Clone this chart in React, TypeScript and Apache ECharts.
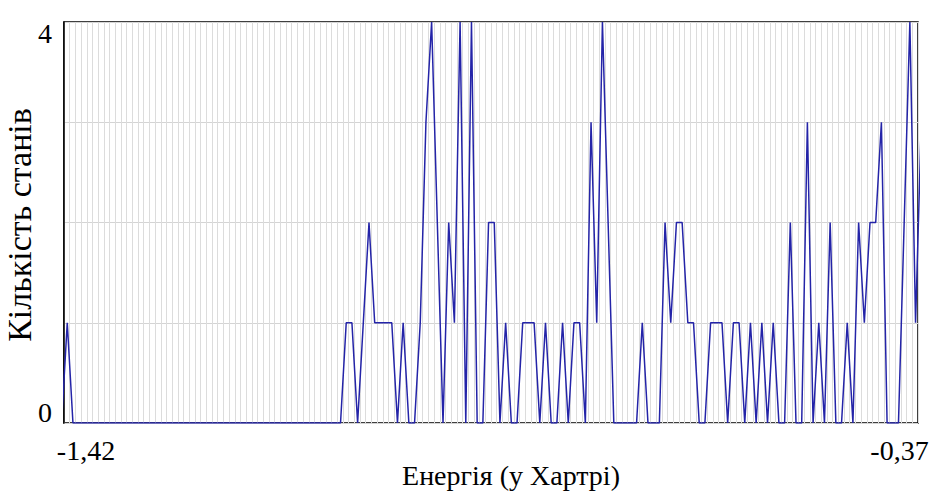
import React, { useEffect, useRef } from "react";
import * as echarts from "echarts";

// Energy range (Hartree) and histogram bins
const X_MIN = -1.42;
const X_MAX = -0.37;
const BIN_WIDTH = 0.007;
const BIN_COUNT = 150;
const FIRST_BIN_CENTER = -1.423;
const X_TICK_LABELS = ["-1,42", "-0,37"];
const Y_MIN = 0;
const Y_MAX = 4;
const Y_TICK_LABELS = ["0", "4"];
const X_TITLE = "Енергія (у Хартрі)";
const Y_TITLE = "Кількість станів";

// Number of states in each energy bin
const STATE_COUNTS = [
  0, 1,
  0, 0, 0, 0, 0, 0, 0, 0, 0, 0, 0, 0, 0, 0, 0, 0,
  0, 0, 0, 0, 0, 0, 0, 0, 0, 0, 0, 0, 0, 0, 0, 0,
  0, 0, 0, 0, 0, 0, 0, 0, 0, 0, 0, 0, 0, 0, 0, 0,
  1, 1, 0, 1, 2, 1, 1, 1, 1, 0, 1, 0, 0, 1, 3, 4,
  2, 0, 2, 1, 4, 0, 4, 0, 0, 2, 2, 0, 1, 0, 0, 1,
  1, 1, 0, 1, 0, 0, 1, 0, 1, 1, 0, 3, 1, 4, 2, 0,
  0, 0, 0, 0, 1, 0, 0, 0, 2, 1, 2, 2, 1, 1, 0, 0,
  1, 1, 1, 0, 1, 1, 0, 1, 0, 1, 0, 1, 0, 0, 2, 0,
  0, 3, 0, 1, 0, 2, 0, 0, 1, 0, 2, 1, 2, 2, 3, 0,
  0, 0, 2, 4, 1, 3,
];

const FONT = "Liberation Serif";

export default function App() {
  const ref = useRef<HTMLDivElement>(null);

  useEffect(() => {
    if (!ref.current) return;
    const chart = echarts.init(ref.current, undefined, { renderer: "svg" });
    const data = STATE_COUNTS.map((c, i) => [FIRST_BIN_CENTER + i * BIN_WIDTH, c]);

    chart.setOption({
      animation: false,
      backgroundColor: "#fff",
      textStyle: { fontFamily: FONT },
      grid: {
        left: 64,
        right: 17,
        top: 22,
        bottom: 68,
        containLabel: false,
        outerBoundsMode: "none",
        show: true,
        borderColor: "#000",
        borderWidth: 1.5,
        backgroundColor: "transparent",
      },
      xAxis: [
        {
          type: "value",
          min: X_MIN,
          max: X_MAX,
          show: false,
        },
        {
          type: "value",
          min: 0,
          max: BIN_COUNT,
          interval: 1,
          position: "bottom",
          axisLine: { show: false },
          axisTick: { show: false },
          splitLine: { show: true, lineStyle: { color: "#dcdcdc", width: 1 } },
          axisLabel: {
            margin: 13,
            color: "#000",
            fontFamily: FONT,
            fontSize: 28,
            formatter: (v: number) =>
              v === 0 ? "{l|" + X_TICK_LABELS[0] + "}" : v === BIN_COUNT ? "{r|" + X_TICK_LABELS[1] + "}" : "",
            rich: {
              l: { fontFamily: FONT, fontSize: 28, color: "#000", padding: [0, 0, 0, 44] },
              r: { fontFamily: FONT, fontSize: 28, color: "#000", padding: [0, 37, 0, 0] },
            },
          },
          name: X_TITLE,
          nameLocation: "middle",
          nameGap: 38,
          nameMoveOverlap: false,
          nameTextStyle: {
            color: "#000",
            fontFamily: FONT,
            fontSize: 28,
            padding: [0, 0, 0, 40],
          },
        },
      ],
      yAxis: {
        type: "value",
        min: Y_MIN,
        max: Y_MAX,
        interval: 1,
        axisLine: { show: true, lineStyle: { color: "#000", width: 1.5 } },
        axisTick: { show: false },
        splitLine: { show: true, lineStyle: { color: "#d4d4d4", width: 1 } },
        axisLabel: {
          margin: 12,
          color: "#000",
          fontFamily: FONT,
          fontSize: 28,
          lineHeight: 22,
          formatter: (v: number) => (v === Y_MIN ? Y_TICK_LABELS[0] : v === Y_MAX ? Y_TICK_LABELS[1] : ""),
          verticalAlignMinLabel: "bottom",
          verticalAlignMaxLabel: "top",
        },
        name: Y_TITLE,
        nameLocation: "middle",
        nameGap: 28,
        nameMoveOverlap: false,
        nameTextStyle: {
          color: "#000",
          fontFamily: FONT,
          fontSize: 34,
          padding: [0, 5, 0, 0],
        },
      },
      series: [
        {
          type: "line",
          xAxisIndex: 0,
          yAxisIndex: 0,
          data,
          symbol: "none",
          clip: true,
          lineStyle: { color: "#2424a8", width: 1.5 },
          z: 3,
        },
      ],
    });

    return () => chart.dispose();
  }, []);

  return (
    <div
      ref={ref}
      style={{ position: "fixed", left: 0, top: 0, width: 935, height: 491, background: "#fff" }}
    />
  );
}
